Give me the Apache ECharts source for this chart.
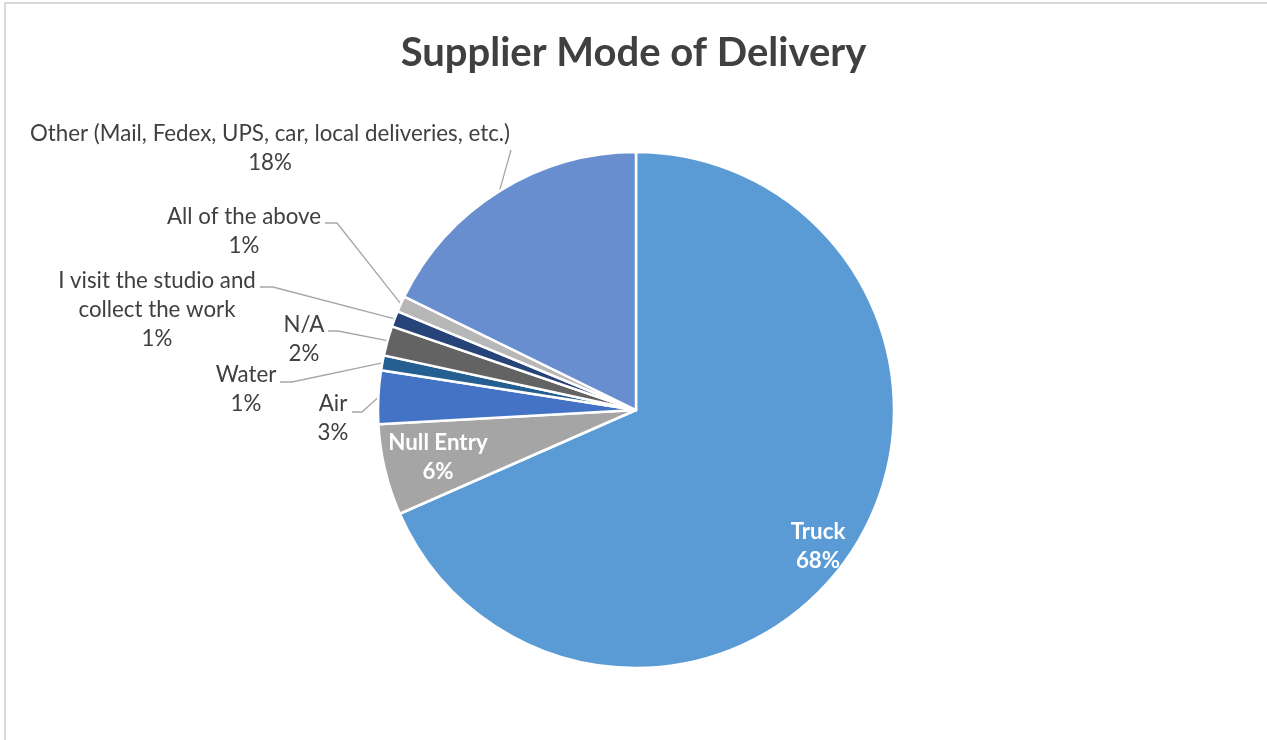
<!DOCTYPE html>
<html>
<head>
<meta charset="utf-8">
<script src="https://cdn.jsdelivr.net/npm/echarts@6/dist/echarts.min.js"></script>
<style>
  html, body { margin: 0; padding: 0; background: #fff; }
  #main { width: 1267px; height: 740px; }
</style>
</head>
<body>
<div id="main"></div>
<script>
// data (share of responses, %)
const categories = [
  "Truck",
  "Null Entry",
  "Air",
  "Water",
  "N/A",
  "I visit the studio and\ncollect the work",
  "All of the above",
  "Other (Mail, Fedex, UPS, car, local deliveries, etc.)"
];
const shares = [68.4, 5.7, 3.35, 0.93, 1.86, 0.99, 1.0, 17.75];
const colors = ["#5B9BD5", "#A5A5A5", "#4472C4", "#255E91", "#636363", "#264478", "#B7B7B7", "#698ED0"];

// label placement (centre x, first line centre y) and leader bends, like the excel chart
const labelPos = [
  [818, 532], [438, 443], [333, 404], [246, 375], [304, 325], [157, 281], [244, 217], [270, 134]
];
const leaderPts = [
  null, null,
  [[362, 412], [352, 412]],
  [[292, 382], [280, 382]],
  [[338, 331], [328, 331]],
  [[273, 287], [260, 287]],
  [[337, 223], [325, 223]],
  [[511, 150]]
];
const insideLabel = [true, true, false, false, false, false, false, false];

const FONT = "Lato";
const LINE_H = 29;

const chart = echarts.init(document.getElementById("main"));

const pieData = categories.map((name, i) => {
  const item = { name: name, value: shares[i], itemStyle: { color: colors[i] } };
  if (insideLabel[i]) {
    item.label = { color: "#fff", fontWeight: "bold" };
    item.labelLine = { show: false };
  }
  return item;
});

const option = {
  animation: false,
  title: {
    text: "Supplier Mode of Delivery",
    left: "center",
    top: 28,
    textStyle: { fontFamily: FONT, fontSize: 40, fontWeight: "bold", color: "#404040" }
  },
  graphic: [
    {
      type: "rect",
      shape: { x: 5, y: 3, width: 1400, height: 900 },
      style: { fill: null, stroke: "#d9d9d9", lineWidth: 2 },
      silent: true
    }
  ],
  series: [
    {
      type: "pie",
      center: [636, 410],
      radius: 258,
      startAngle: 90,
      clockwise: true,
      avoidLabelOverlap: false,
      itemStyle: { borderColor: "#fff", borderWidth: 2.5 },
      label: {
        show: true,
        position: "outside",
        fontFamily: FONT,
        fontSize: 22.3,
        lineHeight: LINE_H,
        color: "#404040",
        align: "center",
        formatter: function (p) {
          return p.name + "\n" + Math.round(p.percent) + "%";
        }
      },
      labelLine: {
        show: true,
        length: 10,
        length2: 10,
        lineStyle: { color: "#A6A6A6", width: 1.3 }
      },
      labelLayout: function (params) {
        const i = params.dataIndex;
        const pos = labelPos[i];
        const res = {
          x: pos[0],
          y: pos[1] - LINE_H / 2,
          align: "center",
          verticalAlign: "top"
        };
        if (leaderPts[i] && params.labelLinePoints) {
          res.labelLinePoints = [params.labelLinePoints[0]].concat(leaderPts[i]);
        }
        return res;
      },
      emphasis: { disabled: true },
      data: pieData
    }
  ]
};

chart.setOption(option);
</script>
</body>
</html>
